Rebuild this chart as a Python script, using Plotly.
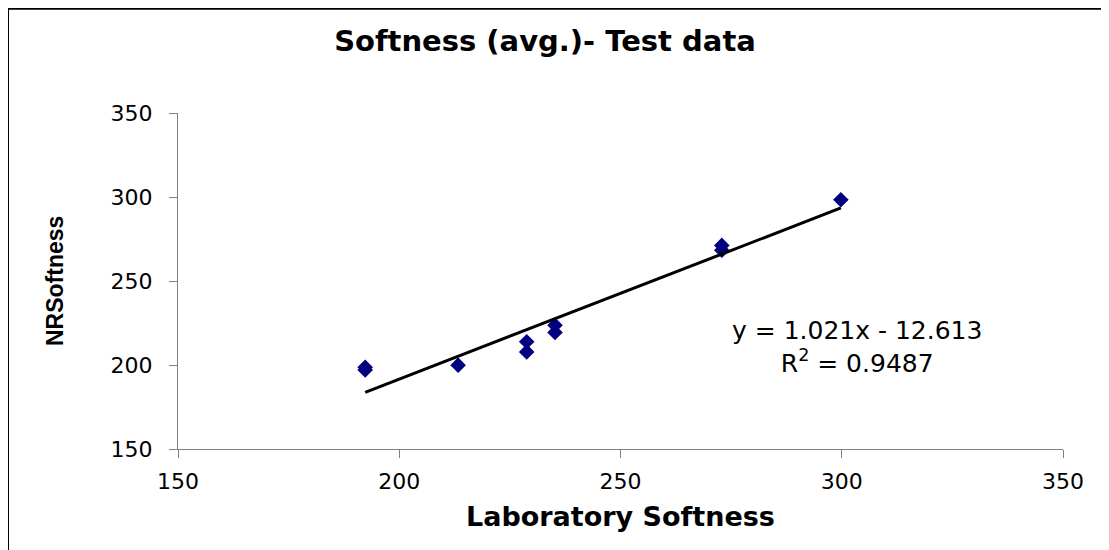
import numpy as np
import plotly.graph_objects as go

# Data
lab_softness = [192.3, 192.3, 213.3, 228.8, 228.8, 235.2, 235.2, 272.9, 272.9, 299.8]
nr_softness = [198.6, 197.0, 199.9, 207.8, 213.8, 219.4, 223.7, 268.3, 271.2, 298.4]
slope = 1.021
intercept = -12.613
r_squared = 0.9487
tick_vals = [150, 200, 250, 300, 350]

x_line = np.array([min(lab_softness), max(lab_softness)])
y_line = slope * x_line + intercept

fig = go.Figure()
fig.add_trace(go.Scatter(
    x=lab_softness, y=nr_softness, mode="markers",
    marker=dict(symbol="diamond", size=12, color="#000080",
                line=dict(width=0)),
    showlegend=False, hoverinfo="x+y"))
fig.add_trace(go.Scatter(
    x=x_line, y=y_line, mode="lines",
    line=dict(color="black", width=3),
    showlegend=False, hoverinfo="skip"))

tick_font = dict(family="DejaVu Sans", size=22, color="black")
axis_common = dict(
    range=[150, 350], tickvals=tick_vals, ticktext=[str(v) for v in tick_vals],
    showgrid=False, zeroline=False, showline=True, linecolor="#808080",
    linewidth=1, ticks="outside", tickcolor="#808080", ticklen=8,
    tickfont=tick_font, mirror=False)

fig.update_xaxes(**axis_common, ticklabelstandoff=5)
fig.update_yaxes(**axis_common, ticklabelstandoff=12)

# page has an 8px body margin: work in figure coords = screen coords - 8
OFF = 8
W, H = 1109 - OFF, 550 - OFF
L, R, T, B = 178 - OFF, 1063 - OFF, 112.5 - OFF, 449 - OFF
pw, ph = R - L, B - T

def px_x(p):
    return (p - OFF - L) / pw

def px_y(p):
    return (B - (p - OFF)) / ph

fig.update_layout(
    width=W, height=H,
    margin=dict(l=L, r=W - R, t=T, b=H - B, pad=0),
    paper_bgcolor="white", plot_bgcolor="white",
    title=dict(text="<b>Softness (avg.)- Test data</b>",
               font=dict(family="DejaVu Sans", size=29, color="black"),
               x=(545 - OFF) / W, xanchor="center", xref="container",
               y=1 - (41 - OFF) / H, yanchor="middle", yref="container"),
    annotations=[
        dict(text="<b>Laboratory Softness</b>", xref="paper", yref="paper",
             x=0.5, y=px_y(517), xanchor="center", yanchor="middle",
             showarrow=False,
             font=dict(family="DejaVu Sans", size=27, color="black")),
        dict(text="<b>NRSoftness</b>", xref="paper", yref="paper",
             x=px_x(55), y=0.5, xanchor="center", yanchor="middle",
             textangle=-90, showarrow=False,
             font=dict(family="Liberation Sans", size=23, color="black")),
        dict(text=f"y = {slope}x - {abs(intercept)}<br>R<sup>2</sup> = {r_squared}",
             xref="paper", yref="paper", x=px_x(857), y=px_y(347),
             xanchor="center", yanchor="middle", showarrow=False, align="center",
             font=dict(family="DejaVu Sans", size=25, color="black")),
    ],
    shapes=[dict(type="rect", xref="paper", yref="paper",
                 x0=px_x(8), x1=px_x(1130), y0=px_y(580), y1=px_y(8),
                 line=dict(color="black", width=2), fillcolor="rgba(0,0,0,0)",
                 layer="below")],
)

fig.write_html("out.html")
